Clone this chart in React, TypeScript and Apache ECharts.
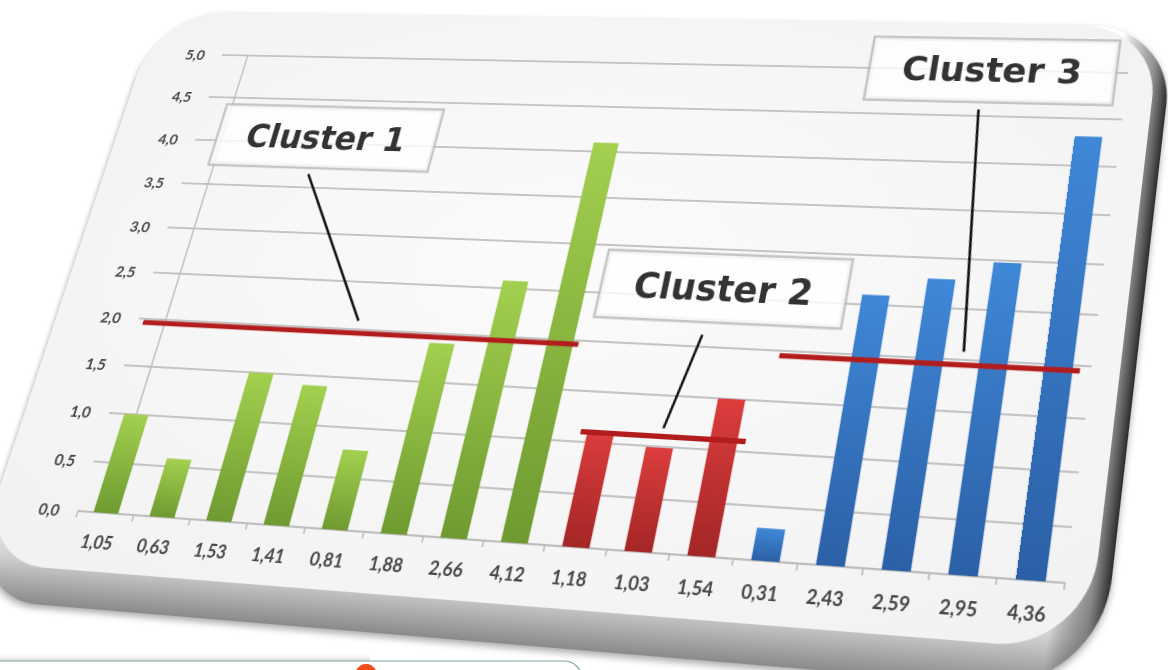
import React, { useEffect, useRef } from "react";
import * as echarts from "echarts";

// ---------- data ----------
const categories = ["1,05", "0,63", "1,53", "1,41", "0,81", "1,88", "2,66", "4,12", "1,18", "1,03", "1,54", "0,31", "2,43", "2,59", "2,95", "4,36"];
const values = [1.0, 0.58, 1.5, 1.4, 0.78, 1.9, 2.58, 4.1, 1.12, 0.99, 1.5, 0.3, 2.6, 2.79, 2.98, 4.31];
const clusterOf = [0, 0, 0, 0, 0, 0, 0, 0, 1, 1, 1, 2, 2, 2, 2, 2];
const clusterNames = ["Cluster 1", "Cluster 2", "Cluster 3"];
const clusterLevels = [1.96, 1.1, 1.95];
const yMin = 0;
const yMax = 5;
const yStep = 0.5;

// ---------- layout (positions in axis units) ----------
const CLUSTER_SPANS = [[-0.4, 7.31], [7.67, 10.35], [10.63, 15.33]];
const LABEL_POS = [[1.93, 4.07], [9.5, 2.6], [13.28, 5.0]];
const LEADERS = [
  [[1.81, 3.65], [3.45, 2.09]],
  [[9.32, 2.12], [9.0, 1.18]],
  [[13.17, 4.57], [13.52, 2.08]],
];

// flat chart geometry and its projection on the page
const W = 1130;
const H = 680;
const GL = 100, GT = 80, GW = 960, GH = 480;
const SRC = [[GL, GT], [GL + GW, GT], [GL + GW, GT + GH], [GL, GT + GH]];
const DST = [[222, 55], [1128, 73], [1065, 583], [78, 511]];

function solve(A: number[][], b: number[]) {
  const n = b.length;
  const M = A.map((r, i) => [...r, b[i]]);
  for (let c = 0; c < n; c++) {
    let p = c;
    for (let r = c + 1; r < n; r++) if (Math.abs(M[r][c]) > Math.abs(M[p][c])) p = r;
    [M[c], M[p]] = [M[p], M[c]];
    for (let r = 0; r < n; r++) {
      if (r === c) continue;
      const f = M[r][c] / M[c][c];
      for (let k = c; k <= n; k++) M[r][k] -= f * M[c][k];
    }
  }
  return M.map((r, i) => r[n] / r[i]);
}

function homography(src: number[][], dst: number[][]) {
  const A: number[][] = [];
  const b: number[] = [];
  for (let k = 0; k < 4; k++) {
    const [x, y] = src[k];
    const [X, Y] = dst[k];
    A.push([x, y, 1, 0, 0, 0, -x * X, -y * X]);
    b.push(X);
    A.push([0, 0, 0, x, y, 1, -x * Y, -y * Y]);
    b.push(Y);
  }
  const [a, bb, c, d, e, f, g, h] = solve(A, b);
  return `matrix3d(${a},${d},0,${g},${bb},${e},0,${h},0,0,1,0,${c},${f},0,1)`;
}

const grad = (top: string, bottom: string) =>
  new echarts.graphic.LinearGradient(0, 0, 0, 1, [
    { offset: 0, color: top },
    { offset: 1, color: bottom },
  ]);

const clusterFill = [grad("#a3d04f", "#6f9a31"), grad("#dc3d3d", "#a42626"), grad("#3f88d8", "#2c60a6")];

export default function App() {
  const ref = useRef<HTMLDivElement>(null);
  const ref2 = useRef<HTMLDivElement>(null);

  useEffect(() => {
    if (!ref.current || !ref2.current) return;
    const chart = echarts.init(ref.current, undefined, { renderer: "svg" });
    const strip = echarts.init(ref2.current, undefined, { renderer: "svg" });

    const fmt = (v: number) => v.toFixed(1).replace(".", ",");

    const series: any[] = [
      {
        type: "bar",
        xAxisIndex: 0,
        yAxisIndex: 0,
        barWidth: "44%",
        z: 3,
        data: values.map((v, i) => ({ value: v, itemStyle: { color: clusterFill[clusterOf[i]] } })),
      },
    ];

    clusterLevels.forEach((lvl, k) => {
      series.push({
        type: "line",
        xAxisIndex: 1,
        yAxisIndex: 0,
        symbol: "none",
        z: 6,
        silent: true,
        lineStyle: { color: "#b21c1c", width: 5 },
        data: [[CLUSTER_SPANS[k][0], lvl], [CLUSTER_SPANS[k][1], lvl]],
      });
    });

    LEADERS.forEach((seg) => {
      series.push({
        type: "line",
        xAxisIndex: 1,
        yAxisIndex: 0,
        symbol: "none",
        z: 7,
        silent: true,
        lineStyle: { color: "#111111", width: 2.5 },
        data: seg,
      });
    });

    series.push({
      type: "scatter",
      xAxisIndex: 1,
      yAxisIndex: 0,
      symbolSize: 2,
      z: 8,
      clip: false,
      silent: true,
      itemStyle: { color: "rgba(255,255,255,0)" },
      label: {
        show: true,
        position: "inside",
        formatter: "{b}",
        fontFamily: "DejaVu Sans",
        fontSize: 35,
        fontWeight: "bold",
        color: "#000000",
        backgroundColor: "#ffffff",
        borderColor: "#b8b8b8",
        borderWidth: 2.5,
        padding: [15, 32, 15, 32],
      },
      data: LABEL_POS.map((p, k) => ({ name: clusterNames[k], value: p })),
    });

    chart.setOption({
      animation: false,
      backgroundColor: "transparent",
      graphic: [
        {
          type: "rect",
          z: -10,
          shape: { x: 8, y: 31, width: 1092, height: 618, r: [80, 80, 95, 80] },
          style: {
            fill: new echarts.graphic.LinearGradient(0, 0, 0, 1, [
              { offset: 0, color: "#ffffff" },
              { offset: 0.86, color: "#f4f4f4" },
              { offset: 0.93, color: "#d2d2d2" },
              { offset: 1, color: "#8a8a8a" },
            ]),
            shadowBlur: 6,
            shadowColor: "rgba(0,0,0,0.35)",
            shadowOffsetY: 3,
          },
        },
        {
          type: "rect",
          z: -9,
          shape: { x: 8, y: 31, width: 1092, height: 618, r: [80, 80, 95, 80] },
          style: {
            fill: new echarts.graphic.LinearGradient(0, 0, 1, 0, [
              { offset: 0, color: "rgba(0,0,0,0)" },
              { offset: 0.955, color: "rgba(0,0,0,0)" },
              { offset: 0.985, color: "rgba(60,60,60,0.55)" },
              { offset: 1, color: "rgba(20,20,20,0.9)" },
            ]),
          },
        },
        {
          type: "rect",
          z: -8,
          shape: { x: 8, y: 31, width: 1078, height: 584, r: [76, 75, 80, 75] },
          style: {
            fill: new echarts.graphic.RadialGradient(0.5, 0.45, 0.7, [
              { offset: 0, color: "#fbfbfb" },
              { offset: 1, color: "#f2f2f2" },
            ]),
          },
        },
      ],
      grid: { left: GL, top: GT, width: GW, height: GH, containLabel: false },
      xAxis: [
        {
          type: "category",
          data: categories,
          boundaryGap: true,
          axisLine: { lineStyle: { color: "#bdbdbd", width: 1.6 } },
          axisTick: { show: true, length: 6, lineStyle: { color: "#bdbdbd", width: 1.6 } },
          axisLabel: { color: "#454545", fontSize: 17, margin: 19, fontFamily: "Lato", fontWeight: "bold" },
          splitLine: { show: false },
        },
        { type: "value", min: -0.5, max: 15.5, show: false, splitLine: { show: false } },
      ],
      yAxis: {
        type: "value",
        min: yMin,
        max: yMax,
        interval: yStep,
        axisLine: { show: true, lineStyle: { color: "#bdbdbd", width: 1.6 } },
        axisTick: { show: true, length: 7, lineStyle: { color: "#bdbdbd", width: 1.6 } },
        splitLine: { lineStyle: { color: "#c4c4c4", width: 1.8 } },
        axisLabel: { color: "#454545", fontSize: 16, margin: 20, fontFamily: "Lato", fontWeight: "bold", formatter: fmt },
      },
      series,
    });

    strip.setOption({
      animation: false,
      graphic: [
        {
          type: "rect",
          shape: { x: 0, y: 4, width: 370, height: 7 },
          style: {
            fill: new echarts.graphic.LinearGradient(0, 0, 0, 1, [
              { offset: 0, color: "rgba(200,200,200,0)" },
              { offset: 1, color: "rgba(150,150,150,0.35)" },
            ]),
          },
        },
        {
          type: "rect",
          shape: { x: -30, y: 11, width: 612, height: 40, r: 18 },
          style: { fill: "none", stroke: "#7ea79b", lineWidth: 1.2 },
        },
        {
          type: "circle",
          shape: { cx: 366, cy: 25, r: 11 },
          style: { fill: "#f04c1c" },
        },
      ],
    });

    return () => {
      chart.dispose();
      strip.dispose();
    };
  }, []);

  return (
    <div style={{ position: "absolute", left: 0, top: 0, width: 1168, height: 670, overflow: "hidden", background: "#ffffff" }}>
      <div ref={ref2} style={{ position: "absolute", left: 0, top: 650, width: 600, height: 20 }} />
      <div
        ref={ref}
        style={{
          position: "absolute",
          left: 0,
          top: 0,
          width: W,
          height: H,
          transformOrigin: "0 0",
          transform: homography(SRC, DST),
        }}
      />
    </div>
  );
}
